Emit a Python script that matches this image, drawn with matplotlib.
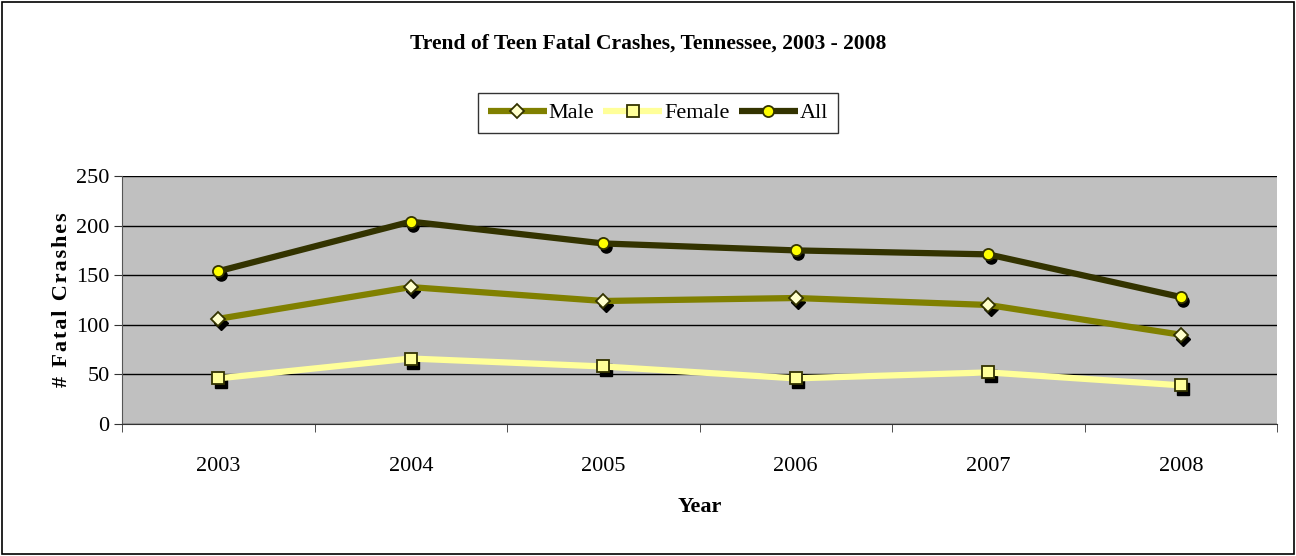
import matplotlib
matplotlib.use("Agg")
import matplotlib.pyplot as plt
import matplotlib.transforms as mtransforms
from matplotlib.patches import Rectangle

years = ['2003', '2004', '2005', '2006', '2007', '2008']
male = [106, 138, 124, 127, 120, 90]
female = [46, 66, 58, 46, 52, 39]
all_teens = [154, 204, 182, 175, 171, 128]

plt.rcParams['font.family'] = ['Liberation Serif', 'DejaVu Serif']

fig = plt.figure(figsize=(12.96, 5.56), dpi=100)
ax = fig.add_axes([122/1296, 1 - 424/556, (1277-122)/1296, (424-176)/556])
ax.set_facecolor('#c0c0c0')

x = list(range(len(years)))
shadow = mtransforms.offset_copy(ax.transData, fig=fig, x=2.5, y=-4, units='dots')

series = [
    (male, 'Male', '#808000', 'D', '#ffffcc', 7),
    (female, 'Female', '#ffff99', 's', '#ffff99', 8),
    (all_teens, 'All', '#333300', 'o', '#ffff00', 8),
]
for vals, name, col, mk, face, ms in series:
    ax.plot(x, vals, ls='none', marker=mk, ms=ms, color='black', mec='black',
            transform=shadow, zorder=2)
    ax.plot(x, vals, color=col, lw=4.5, marker=mk, ms=ms, mfc=face, mec='#333300',
            mew=1.3, label=name, zorder=3, solid_capstyle='butt')

ax.set_xlim(-0.5, len(years) - 0.5)
ax.set_ylim(0, 250)
ax.set_yticks(range(0, 251, 50))
ax.set_xticks(x)
ax.set_xticklabels(years)
ax.set_xticks([i - 0.5 for i in range(len(years) + 1)], minor=True)
ax.tick_params(axis='x', which='major', length=0, pad=24, labelsize=16)
ax.tick_params(axis='x', which='minor', length=6, direction='out', color='#333333')
ax.tick_params(axis='y', length=6, direction='out', labelsize=16, color='#333333', pad=3)
ax.yaxis.grid(True, color='black', lw=1)
ax.set_axisbelow(True)
for s in ['top', 'right']:
    ax.spines[s].set_visible(False)
ax.spines['left'].set_color('#555555')
ax.spines['bottom'].set_color('#333333')

ax.set_xlabel('Year', fontsize=16, fontweight='bold', labelpad=15)
ylab = '\u200a'.join('# Fatal Crashes')
ax.set_ylabel(ylab, fontsize=16, fontweight='bold', labelpad=3)

fig.text(0.5, 1 - 44/556, 'Trend of Teen Fatal Crashes, Tennessee, 2003 - 2008',
         ha='center', va='center', fontsize=15.5, fontweight='bold')

leg = fig.legend(loc='center', bbox_to_anchor=(658/1296, 1 - 113/556), ncol=3,
                 fontsize=16, frameon=True, fancybox=False, edgecolor='black',
                 handlelength=2.65, handletextpad=0.1, columnspacing=0.4,
                 borderpad=0.45)
leg.get_frame().set_linewidth(1)

fig.patches.append(Rectangle((2/1296, 2/556), 1 - 4/1296, 1 - 4/556,
                             transform=fig.transFigure, fill=False,
                             edgecolor='black', lw=1.2))

fig.savefig('out.png', dpi=100)
